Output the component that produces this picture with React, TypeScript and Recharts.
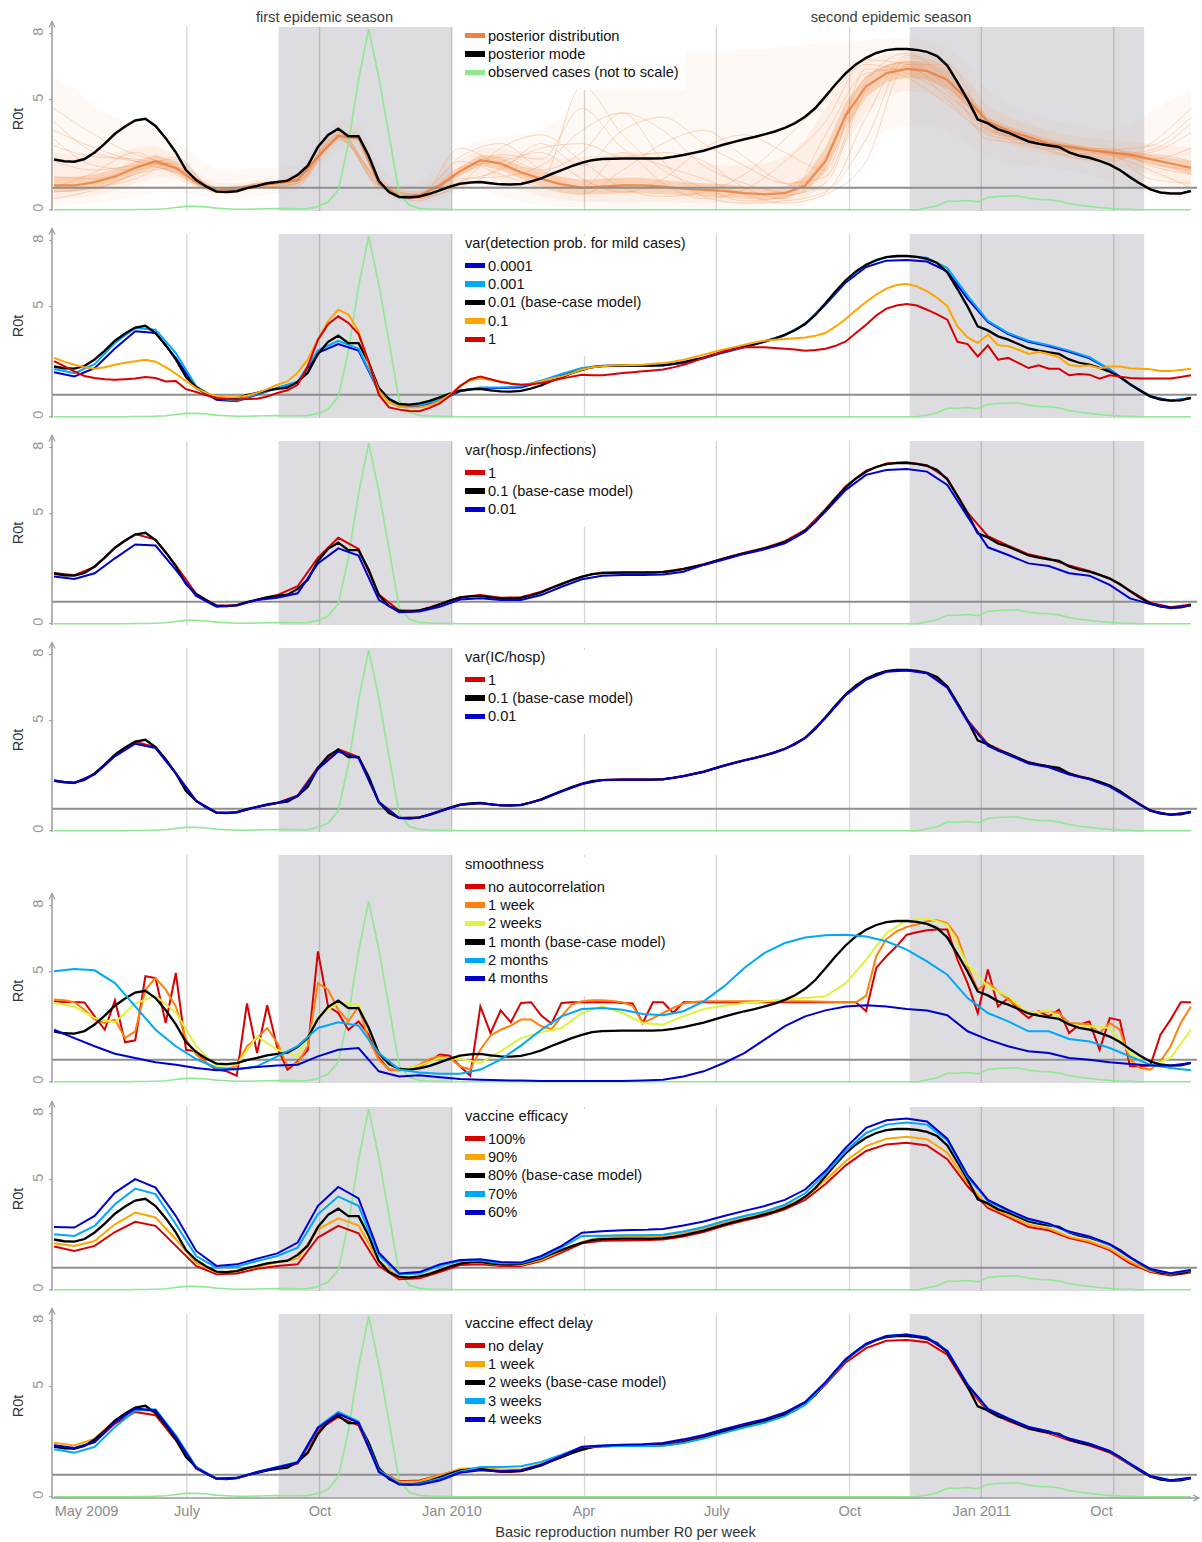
import React from "react";
import { ComposedChart, Line, Area, XAxis, YAxis, ReferenceArea, ReferenceLine } from "recharts";

const FONT = '"Liberation Sans", Arial, sans-serif';
const AXIS = "#9A9A9A";

// ---------------------------------------------------------------------------
// Axis data: weeks since the first week of May 2009
// ---------------------------------------------------------------------------

const WEEKS = Array.from({ length: 113 }, (_, i) => i);
const X_TICKS = [3.2, 13.1, 26.2, 39.2, 52.2, 65.3, 78.4, 91.4, 103.2];
const X_LABELS = ["May 2009", "July", "Oct", "Jan 2010", "Apr", "July", "Oct", "Jan 2011", "Oct"];
const GRID_WEEKS = [13.08, 26.16, 39.2, 52.26, 65.25, 78.37, 91.35, 104.4];
const SEASONS = [[22.13, 39.2], [84.3, 107.4]];
const Y_TICKS = [0, 5, 8];

// ---------------------------------------------------------------------------
// Weekly series (113 values, w0..w112)
// ---------------------------------------------------------------------------

// base-case model / posterior mode
const BASE = [
  2.28, 2.2, 2.18, 2.3, 2.6, 3.0, 3.45, 3.78, 4.05, 4.13,
  3.8, 3.25, 2.6, 1.8, 1.35, 1.05, 0.82, 0.8, 0.84, 0.98,
  1.08, 1.2, 1.26, 1.32, 1.58, 2.0, 2.85, 3.4, 3.68, 3.34,
  3.34, 2.45, 1.3, 0.8, 0.58, 0.55, 0.6, 0.72, 0.88, 1.05,
  1.18, 1.24, 1.26, 1.2, 1.15, 1.14, 1.17, 1.28, 1.42, 1.62,
  1.8, 1.98, 2.13, 2.25, 2.3, 2.31, 2.32, 2.32, 2.32, 2.32,
  2.34, 2.4, 2.48, 2.58, 2.68, 2.82, 2.96, 3.08, 3.2, 3.3,
  3.42, 3.55, 3.72, 3.93, 4.22, 4.62, 5.15, 5.7, 6.2, 6.6,
  6.9, 7.12, 7.25, 7.3, 7.3, 7.26, 7.17, 6.98, 6.55, 5.8,
  5.0, 4.1, 3.92, 3.65, 3.5, 3.3, 3.1, 3.0, 2.92, 2.85,
  2.6, 2.45, 2.36, 2.22, 2.05, 1.8, 1.48, 1.18, 0.92, 0.78,
  0.73, 0.74, 0.85,
];

// observed cases, rescaled to the panel
const OBSERVED = [
  0, 0, 0, 0, 0, 0, 0, 0, 0.01, 0.01,
  0.02, 0.04, 0.1, 0.15, 0.15, 0.12, 0.07, 0.04, 0.02, 0.02,
  0.03, 0.04, 0.05, 0.05, 0.04, 0.05, 0.15, 0.35, 0.9, 3.0,
  5.9, 8.2, 6.0, 3.4, 0.75, 0.2, 0.06, 0.03, 0.02, 0.01,
  0, 0, 0, 0, 0, 0, 0, 0, 0, 0,
  0, 0, 0, 0, 0, 0, 0, 0, 0, 0,
  0, 0, 0, 0, 0, 0, 0, 0, 0, 0,
  0, 0, 0, 0, 0, 0, 0, 0, 0, 0,
  0, 0, 0, 0, 0, 0, 0.08, 0.18, 0.38, 0.38,
  0.42, 0.36, 0.55, 0.6, 0.62, 0.62, 0.52, 0.47, 0.45, 0.4,
  0.28, 0.2, 0.15, 0.1, 0.06, 0.03, 0.02, 0, 0, 0,
  0, 0, 0,
];

const P2_ORANGE = [
  2.67, 2.5, 2.36, 2.25, 2.18, 2.25, 2.36, 2.45, 2.52, 2.59,
  2.5, 2.25, 1.95, 1.62, 1.3, 1.08, 0.92, 0.88, 0.88, 0.95,
  1.08, 1.25, 1.45, 1.6, 2.0, 2.6, 3.5, 4.33, 4.86, 4.64,
  3.88, 2.4, 1.18, 0.65, 0.45, 0.42, 0.43, 0.52, 0.7, 1.0,
  1.42, 1.65, 1.73, 1.68, 1.6, 1.52, 1.45, 1.5, 1.6, 1.72,
  1.83, 1.98, 2.14, 2.25, 2.29, 2.32, 2.34, 2.35, 2.36, 2.4,
  2.44, 2.5, 2.59, 2.7, 2.82, 2.94, 3.05, 3.16, 3.27, 3.37,
  3.45, 3.5, 3.53, 3.56, 3.6, 3.68, 3.8, 4.1, 4.44, 4.85,
  5.21, 5.55, 5.82, 5.98, 6.03, 5.92, 5.7, 5.4, 5.02, 4.1,
  3.6, 3.35, 3.73, 3.25, 3.2, 3.05, 2.85, 2.95, 2.85, 2.7,
  2.35, 2.3, 2.33, 2.2, 2.28, 2.28, 2.2, 2.18, 2.15, 2.08,
  2.07, 2.12, 2.18,
];

const P2_RED = [
  2.52, 2.3, 2.06, 1.85, 1.76, 1.7, 1.68, 1.7, 1.73, 1.8,
  1.76, 1.6, 1.62, 1.25, 1.12, 0.97, 0.85, 0.8, 0.77, 0.8,
  0.82, 0.92, 1.08, 1.2, 1.45, 2.3, 3.5, 4.2, 4.56, 4.26,
  3.75, 2.5, 1.0, 0.42, 0.32, 0.26, 0.25, 0.4, 0.6, 0.95,
  1.38, 1.7, 1.82, 1.7, 1.58, 1.5, 1.45, 1.47, 1.53, 1.62,
  1.73, 1.82, 1.9, 1.88, 1.88, 1.93, 1.98, 2.02, 2.06, 2.1,
  2.14, 2.24, 2.36, 2.5, 2.67, 2.82, 2.97, 3.07, 3.15, 3.15,
  3.15, 3.12, 3.09, 3.05, 3.0, 3.03, 3.09, 3.22, 3.42, 3.8,
  4.18, 4.6, 4.91, 5.05, 5.12, 5.05, 4.86, 4.65, 4.41, 3.4,
  3.3, 2.74, 3.24, 2.59, 2.67, 2.44, 2.21, 2.33, 2.18, 2.18,
  1.88, 1.94, 1.91, 1.73, 1.88, 1.82, 1.76, 1.74, 1.73, 1.73,
  1.74, 1.8, 1.88,
];

const P5_RED = [
  3.65, 3.62, 3.62, 3.6, 2.97, 2.36, 3.7, 1.79, 1.88, 4.79,
  4.71, 2.67, 4.94, 1.45, 1.38, 0.85, 0.55, 0.47, 0.27, 3.55,
  1.3, 3.47, 1.53, 0.55, 0.92, 1.45, 5.92, 3.42, 3.12, 2.36,
  2.74, 2.14, 1.08, 0.55, 0.52, 0.55, 0.7, 0.92, 1.23, 1.18,
  0.7, 0.27, 3.42, 2.21, 3.24, 2.7, 3.58, 3.61, 3.0, 2.64,
  3.58, 3.61, 3.61, 3.61, 3.61, 3.61, 3.58, 3.55, 2.67, 3.61,
  3.61, 3.12, 3.61, 3.61, 3.61, 3.61, 3.61, 3.61, 3.61, 3.61,
  3.61, 3.61, 3.61, 3.61, 3.61, 3.61, 3.61, 3.61, 3.61, 3.61,
  3.2, 5.17, 5.7, 6.15, 6.68, 6.79, 6.88, 6.91, 6.91, 5.55,
  4.48, 3.12, 5.1, 3.42, 3.8, 3.27, 2.89, 3.2, 2.97, 3.27,
  2.21, 2.59, 2.74, 1.45, 2.89, 2.79, 0.7, 0.7, 0.73, 2.14,
  2.82, 3.61, 3.61,
];

const P5_ORANGE = [
  3.73, 3.7, 3.61, 3.27, 2.82, 2.67, 2.82, 1.98, 2.29, 4.18,
  4.71, 4.18, 3.42, 1.91, 1.23, 0.85, 0.62, 0.59, 0.7, 1.61,
  1.98, 2.44, 1.76, 0.7, 0.85, 1.61, 4.48, 4.18, 3.27, 2.74,
  3.42, 1.91, 1.0, 0.55, 0.52, 0.58, 0.77, 1.03, 1.15, 1.08,
  0.7, 0.55, 1.45, 2.09, 2.36, 2.55, 2.82, 2.82, 2.52, 2.39,
  2.97, 3.5, 3.65, 3.7, 3.7, 3.67, 3.61, 3.45, 2.67, 2.89,
  3.12, 3.35, 3.55, 3.62, 3.65, 3.65, 3.65, 3.65, 3.65, 3.65,
  3.65, 3.65, 3.65, 3.65, 3.65, 3.64, 3.63, 3.62, 3.61, 3.61,
  3.9, 5.7, 6.48, 6.83, 7.03, 7.14, 7.29, 7.33, 7.21, 6.58,
  5.24, 4.18, 4.52, 4.11, 3.73, 3.42, 3.12, 3.17, 3.2, 3.12,
  2.67, 2.64, 2.59, 2.21, 2.67, 2.36, 1.0, 0.62, 0.55, 0.92,
  1.61, 2.67, 3.42,
];

// ---------------------------------------------------------------------------
// Two-weekly series (57 values, w0, w2, ..., w112)
// ---------------------------------------------------------------------------

const P2_BLUE = [
  2.02, 1.83, 2.2, 3.1, 3.88, 3.8, 2.67, 1.3, 0.77, 0.7,
  1.0, 1.3, 1.55, 2.9, 3.3, 3.0, 1.15, 0.47, 0.47, 0.73,
  1.15, 1.3, 1.3, 1.33, 1.6, 1.9, 2.18,
  2.3, 2.33, 2.33, 2.33, 2.45, 2.65, 2.92, 3.15, 3.4, 3.7,
  4.2, 5.1, 6.1, 6.8, 7.09, 7.12, 7.05, 6.6, 5.35, 4.3,
  3.75, 3.4, 3.2, 2.95, 2.65, 2.15, 1.48, 0.93, 0.73, 0.84,
];
const P2_LBLUE = [
  2.17, 1.98, 2.39, 3.35, 4.03, 3.95, 2.89, 1.38, 0.82, 0.73,
  1.03, 1.3, 1.6, 3.0, 3.45, 3.09, 1.15, 0.52, 0.52, 0.77,
  1.18, 1.33, 1.33, 1.38, 1.64, 1.94, 2.21,
  2.31, 2.33, 2.33, 2.34, 2.46, 2.67, 2.94, 3.18, 3.42, 3.72,
  4.22, 5.15, 6.2, 6.9, 7.25, 7.3, 7.22, 6.75, 5.5, 4.35,
  3.8, 3.45, 3.25, 3.0, 2.7, 2.15, 1.45, 0.9, 0.72, 0.85,
];

const P3_RED = [
  2.3, 2.2, 2.58, 3.45, 4.07, 3.82, 2.65, 1.36, 0.82, 0.84,
  1.1, 1.3, 1.7, 3.0, 3.9, 3.4, 1.32, 0.6, 0.6, 0.88,
  1.2, 1.3, 1.18, 1.2, 1.45, 1.82, 2.15,
  2.32, 2.34, 2.34, 2.36, 2.5, 2.7, 2.98, 3.22, 3.44, 3.75,
  4.26, 5.2, 6.25, 6.95, 7.28, 7.33, 7.2, 6.6, 5.05, 3.98,
  3.55, 3.15, 2.95, 2.65, 2.4, 2.06, 1.5, 0.95, 0.75, 0.87,
];
const P3_BLUE = [
  2.14, 2.03, 2.29, 2.97, 3.6, 3.55, 2.44, 1.26, 0.77, 0.82,
  1.08, 1.18, 1.38, 2.74, 3.42, 3.09, 1.08, 0.52, 0.55, 0.77,
  1.1, 1.15, 1.08, 1.08, 1.3, 1.68, 2.02,
  2.18, 2.21, 2.21, 2.24, 2.36, 2.67, 2.92, 3.17, 3.38, 3.65,
  4.18, 5.09, 6.08, 6.76, 6.98, 7.03, 6.91, 6.3, 4.86, 3.47,
  3.12, 2.74, 2.62, 2.29, 2.18, 1.76, 1.15, 0.89, 0.7, 0.82,
];

const P4_RED = [
  2.27, 2.16, 2.58, 3.44, 4.04, 3.8, 2.6, 1.35, 0.82, 0.84,
  1.08, 1.26, 1.6, 2.88, 3.7, 3.35, 1.3, 0.58, 0.6, 0.88,
  1.18, 1.26, 1.15, 1.17, 1.42, 1.8, 2.13,
  2.3, 2.32, 2.32, 2.34, 2.48, 2.68, 2.96, 3.2, 3.42, 3.72,
  4.22, 5.15, 6.2, 6.9, 7.25, 7.3, 7.17, 6.57, 5.02, 3.93,
  3.5, 3.1, 2.92, 2.6, 2.36, 2.05, 1.48, 0.92, 0.73, 0.85,
];
const P4_BLUE = [
  2.26, 2.17, 2.56, 3.38, 3.95, 3.75, 2.6, 1.35, 0.82, 0.83,
  1.08, 1.26, 1.56, 2.8, 3.6, 3.3, 1.3, 0.58, 0.6, 0.88,
  1.17, 1.25, 1.15, 1.16, 1.4, 1.78, 2.12,
  2.3, 2.31, 2.31, 2.33, 2.47, 2.67, 2.95, 3.19, 3.41, 3.71,
  4.2, 5.12, 6.16, 6.86, 7.22, 7.28, 7.15, 6.5, 4.95, 3.85,
  3.45, 3.05, 2.88, 2.55, 2.33, 2.0, 1.45, 0.9, 0.72, 0.84,
];

const P5_YELLOW = [
  3.58, 3.42, 2.89, 2.7, 3.55, 3.9, 3.15, 1.61, 0.7, 0.77,
  2.06, 1.45, 1.15, 2.97, 3.58, 3.5, 1.23, 0.55, 0.73, 1.08,
  1.03, 0.85, 1.38, 1.98, 2.24, 2.44, 3.12,
  3.42, 3.12, 2.67, 2.59, 2.97, 3.3, 3.45, 3.58, 3.65, 3.73,
  3.8, 3.88, 4.48, 5.55, 6.76, 7.33, 7.44, 7.14, 5.32, 4.33,
  3.88, 3.12, 3.23, 2.59, 2.52, 2.44, 1.3, 0.7, 1.08, 2.36,
];
const P5_LBLUE = [
  5.02, 5.12, 5.06, 4.48, 3.42, 2.36, 1.61, 1.03, 0.62, 0.55,
  0.7, 1.15, 1.61, 2.44, 2.7, 2.55, 1.3, 0.55, 0.42, 0.36,
  0.36, 0.55, 1.0, 1.64, 2.36, 2.97, 3.3,
  3.35, 3.27, 3.08, 3.02, 3.2, 3.65, 4.33, 5.17, 5.85, 6.3,
  6.55, 6.65, 6.68, 6.6, 6.38, 6.0, 5.47, 4.86, 3.8, 3.12,
  2.74, 2.29, 2.29, 1.94, 1.83, 1.53, 1.15, 0.77, 0.62, 0.52,
];
const P5_BLUE = [
  2.36, 1.98, 1.61, 1.27, 1.08, 0.88, 0.77, 0.62, 0.52, 0.58,
  0.67, 0.74, 0.77, 1.15, 1.45, 1.53, 0.47, 0.24, 0.29, 0.2,
  0.12, 0.09, 0.06, 0.05, 0.03, 0.03, 0.03,
  0.03, 0.03, 0.05, 0.09, 0.24, 0.47, 0.85, 1.3, 1.91, 2.52,
  2.97, 3.24, 3.42, 3.47, 3.42, 3.3, 3.23, 3.02, 2.29, 1.91,
  1.61, 1.38, 1.3, 1.08, 1.0, 0.88, 0.8, 0.73, 0.73, 0.85,
];

const P6_RED = [
  1.96, 1.76, 1.99, 2.62, 3.08, 2.9, 1.99, 1.08, 0.7, 0.74,
  0.95, 1.08, 1.15, 2.37, 2.9, 2.56, 1.08, 0.47, 0.52, 0.8,
  1.12, 1.15, 1.08, 1.08, 1.3, 1.68, 2.11,
  2.22, 2.24, 2.25, 2.28, 2.42, 2.62, 2.9, 3.14, 3.36, 3.65,
  4.08, 4.8, 5.65, 6.3, 6.6, 6.68, 6.55, 5.93, 4.7, 3.72,
  3.3, 2.85, 2.7, 2.35, 2.14, 1.8, 1.2, 0.8, 0.65, 0.78,
];
const P6_ORANGE = [
  2.11, 1.99, 2.21, 2.97, 3.5, 3.28, 2.29, 1.23, 0.78, 0.85,
  1.05, 1.23, 1.41, 2.74, 3.24, 2.92, 1.3, 0.55, 0.59, 0.9,
  1.2, 1.23, 1.12, 1.12, 1.35, 1.76, 2.17,
  2.4, 2.42, 2.42, 2.44, 2.58, 2.78, 3.05, 3.28, 3.48, 3.78,
  4.2, 4.98, 5.85, 6.52, 6.86, 6.95, 6.84, 6.22, 4.86, 3.8,
  3.38, 2.95, 2.78, 2.4, 2.2, 1.86, 1.28, 0.85, 0.7, 0.84,
];
const P6_LBLUE = [
  2.52, 2.44, 2.9, 3.88, 4.59, 4.34, 2.97, 1.53, 1.0, 1.05,
  1.3, 1.53, 1.91, 3.43, 4.23, 3.81, 1.56, 0.7, 0.74, 1.08,
  1.3, 1.33, 1.2, 1.2, 1.46, 1.91, 2.44,
  2.45, 2.47, 2.47, 2.5, 2.64, 2.85, 3.12, 3.35, 3.55, 3.86,
  4.38, 5.28, 6.3, 7.12, 7.5, 7.6, 7.5, 6.78, 5.12, 4.02,
  3.58, 3.18, 2.98, 2.62, 2.4, 2.05, 1.45, 0.92, 0.74, 0.88,
];
const P6_BLUE = [
  2.85, 2.82, 3.35, 4.41, 5.02, 4.64, 3.35, 1.76, 1.08, 1.15,
  1.41, 1.65, 2.14, 3.81, 4.67, 4.15, 1.68, 0.74, 0.8, 1.15,
  1.35, 1.38, 1.26, 1.23, 1.53, 1.99, 2.59,
  2.65, 2.7, 2.72, 2.76, 2.92, 3.1, 3.35, 3.58, 3.8, 4.08,
  4.55, 5.4, 6.45, 7.35, 7.7, 7.78, 7.64, 6.86, 5.2, 4.08,
  3.62, 3.22, 3.0, 2.64, 2.42, 2.07, 1.47, 0.94, 0.75, 0.9,
];

const P7_RED = [
  2.33, 2.18, 2.48, 3.32, 3.85, 3.7, 2.56, 1.27, 0.82, 0.85,
  1.09, 1.3, 1.5, 3.02, 3.62, 3.24, 1.2, 0.7, 0.74, 0.97,
  1.24, 1.24, 1.12, 1.15, 1.42, 1.8, 2.18,
  2.3, 2.34, 2.36, 2.4, 2.56, 2.76, 3.02, 3.26, 3.48, 3.78,
  4.25, 5.1, 6.1, 6.75, 7.08, 7.12, 7.02, 6.45, 4.95, 3.88,
  3.45, 3.08, 2.88, 2.56, 2.32, 2.0, 1.45, 0.9, 0.71, 0.82,
];
const P7_ORANGE = [
  2.45, 2.33, 2.64, 3.47, 4.0, 3.85, 2.64, 1.27, 0.82, 0.86,
  1.12, 1.33, 1.55, 3.09, 3.77, 3.39, 1.2, 0.67, 0.7, 0.97,
  1.27, 1.3, 1.24, 1.24, 1.5, 1.88, 2.26,
  2.29, 2.31, 2.31, 2.32, 2.46, 2.66, 2.92, 3.16, 3.38, 3.68,
  4.2, 5.15, 6.2, 6.9, 7.27, 7.33, 7.2, 6.58, 5.04, 3.95,
  3.52, 3.12, 2.93, 2.62, 2.38, 2.06, 1.48, 0.93, 0.73, 0.85,
];
const P7_LBLUE = [
  2.15, 2.0, 2.26, 3.17, 3.92, 3.97, 2.79, 1.35, 0.82, 0.85,
  1.12, 1.35, 1.58, 3.17, 3.85, 3.42, 1.2, 0.59, 0.59, 0.82,
  1.15, 1.35, 1.35, 1.38, 1.58, 1.91, 2.26,
  2.28, 2.3, 2.3, 2.31, 2.44, 2.64, 2.9, 3.14, 3.36, 3.66,
  4.18, 5.15, 6.22, 6.93, 7.3, 7.37, 7.24, 6.63, 5.1, 3.99,
  3.56, 3.17, 2.97, 2.65, 2.41, 2.08, 1.5, 0.94, 0.74, 0.86,
];
const P7_BLUE = [
  2.33, 2.21, 2.48, 3.39, 4.0, 3.92, 2.71, 1.3, 0.82, 0.85,
  1.12, 1.33, 1.55, 3.12, 3.77, 3.36, 1.12, 0.56, 0.55, 0.74,
  1.09, 1.2, 1.15, 1.2, 1.45, 1.85, 2.26,
  2.32, 2.36, 2.38, 2.44, 2.6, 2.8, 3.06, 3.3, 3.52, 3.82,
  4.3, 5.2, 6.25, 6.95, 7.3, 7.36, 7.22, 6.62, 5.08, 3.98,
  3.55, 3.16, 2.96, 2.64, 2.4, 2.07, 1.5, 0.94, 0.74, 0.86,
];

// posterior distribution bands (two-weekly)
const MEDIAN = [
  1.1, 1.1, 1.25, 1.5, 1.9, 2.2, 1.9, 1.25, 0.9, 0.95,
  1.1, 1.2, 1.35, 2.4, 3.35, 3.25, 1.2, 0.6, 0.65, 1.1,
  1.75, 2.25, 2.1, 1.7, 1.4, 1.15, 1.0,
  1.05, 1.1, 1.1, 1.05, 0.95, 0.9, 0.85, 0.75, 0.7, 0.75,
  1.1, 2.2, 4.3, 5.6, 6.2, 6.4, 6.3, 5.9, 5.0, 4.0,
  3.6, 3.3, 3.0, 2.85, 2.7, 2.6, 2.5, 2.3, 2.1, 1.9,
];
const OUTER_LO = [
  0.2, 0.25, 0.3, 0.45, 0.6, 0.8, 0.8, 0.7, 0.5, 0.5,
  0.6, 0.75, 0.9, 1.8, 2.8, 2.8, 0.8, 0.35, 0.35, 0.5,
  0.8, 0.9, 0.6, 0.35, 0.2, 0.15, 0.1,
  0.05, 0.05, 0.05, 0.05, 0.05, 0.05, 0.05, 0.05, 0.05, 0.1,
  0.2, 0.6, 1.8, 3.0, 3.6, 3.8, 3.9, 3.6, 3.0, 2.4,
  2.1, 2.0, 1.9, 1.8, 1.6, 1.3, 1.0, 0.7, 0.5, 0.4,
];
const OUTER_HI = [
  6.0, 5.5, 4.7, 4.2, 3.9, 3.7, 3.2, 2.4, 1.8, 1.8,
  1.9, 1.9, 2.0, 3.0, 4.1, 4.0, 2.0, 1.1, 1.2, 2.0,
  2.8, 3.2, 3.3, 3.4, 3.6, 4.2, 5.6,
  6.4, 6.8, 7.0, 7.1, 7.2, 7.2, 7.2, 7.3, 7.3, 7.4,
  7.5, 7.6, 7.6, 7.7, 7.8, 7.8, 7.7, 7.4, 6.6, 5.4,
  4.8, 4.4, 4.1, 3.9, 3.7, 3.6, 3.8, 4.4, 5.0, 5.4,
];
const MID_LO = [
  0.5, 0.55, 0.65, 0.85, 1.2, 1.5, 1.4, 1.0, 0.7, 0.75,
  0.9, 1.0, 1.1, 2.1, 3.1, 3.0, 1.0, 0.45, 0.5, 0.8,
  1.2, 1.6, 1.3, 0.9, 0.6, 0.45, 0.35,
  0.35, 0.35, 0.35, 0.35, 0.3, 0.3, 0.3, 0.25, 0.25, 0.3,
  0.5, 1.2, 3.0, 4.4, 5.2, 5.4, 5.3, 4.9, 4.2, 3.3,
  3.0, 2.7, 2.5, 2.35, 2.2, 2.05, 1.85, 1.6, 1.3, 1.1,
];
const MID_HI = [
  2.6, 2.5, 2.5, 2.6, 2.8, 2.9, 2.5, 1.7, 1.2, 1.2,
  1.35, 1.45, 1.6, 2.7, 3.7, 3.55, 1.5, 0.8, 0.85, 1.5,
  2.3, 2.8, 2.8, 2.6, 2.4, 2.3, 2.4,
  2.5, 2.6, 2.6, 2.5, 2.3, 2.1, 2.0, 2.0, 2.1, 2.4,
  3.2, 4.6, 6.0, 6.8, 7.1, 7.2, 7.1, 6.8, 5.9, 4.7,
  4.2, 3.9, 3.6, 3.4, 3.25, 3.15, 3.1, 3.0, 2.9, 2.8,
];
const IN_LO = [
  0.8, 0.8, 0.95, 1.2, 1.6, 1.9, 1.65, 1.1, 0.8, 0.85,
  1.0, 1.1, 1.25, 2.3, 3.25, 3.15, 1.1, 0.55, 0.6, 1.0,
  1.55, 2.0, 1.8, 1.4, 1.05, 0.8, 0.7,
  0.7, 0.75, 0.75, 0.7, 0.65, 0.6, 0.55, 0.5, 0.45, 0.5,
  0.8, 1.7, 3.7, 5.1, 5.8, 6.0, 5.9, 5.5, 4.7, 3.8,
  3.4, 3.1, 2.85, 2.7, 2.55, 2.45, 2.35, 2.1, 1.85, 1.6,
];
const IN_HI = [
  1.5, 1.5, 1.6, 1.85, 2.2, 2.5, 2.2, 1.45, 1.0, 1.05,
  1.2, 1.3, 1.45, 2.5, 3.45, 3.35, 1.3, 0.65, 0.72, 1.2,
  1.95, 2.5, 2.4, 2.0, 1.75, 1.5, 1.35,
  1.4, 1.45, 1.45, 1.35, 1.25, 1.2, 1.15, 1.05, 1.0, 1.05,
  1.5, 2.8, 4.9, 6.1, 6.6, 6.8, 6.7, 6.3, 5.3, 4.2,
  3.8, 3.5, 3.2, 3.0, 2.85, 2.75, 2.65, 2.5, 2.35, 2.2,
];

// a few posterior draws (four-weekly, w0, w4, ..., w112)
const DRAW_1 = [4.6, 3.4, 2.5, 2.0, 1.0, 1.1, 1.3, 3.6, 1.0, 0.7, 1.6, 2.4, 1.8, 2.6, 4.4, 3.6, 2.0, 1.2, 0.8, 2.4, 6.0, 6.7, 5.6, 3.9, 3.1, 2.8, 2.6, 2.3, 2.8];
const DRAW_2 = [0.5, 0.9, 1.6, 1.9, 0.9, 1.1, 1.4, 3.2, 1.4, 0.6, 2.2, 1.6, 1.0, 0.7, 1.8, 3.0, 3.6, 2.4, 1.2, 0.9, 4.2, 7.0, 6.4, 3.6, 3.3, 2.6, 2.4, 2.6, 3.5];
const DRAW_3 = [2.9, 2.4, 2.3, 1.8, 0.8, 1.0, 1.2, 3.4, 1.2, 0.5, 1.2, 2.8, 3.4, 2.2, 1.0, 0.6, 0.8, 1.6, 3.2, 5.0, 6.6, 6.2, 5.2, 3.7, 2.9, 2.7, 2.8, 2.0, 1.6];
const DRAW_4 = [1.5, 1.4, 1.9, 2.3, 0.8, 1.2, 1.3, 3.5, 1.3, 0.6, 2.8, 2.0, 1.4, 5.6, 3.4, 1.8, 1.0, 0.4, 0.6, 1.2, 5.4, 6.5, 5.8, 3.2, 3.0, 2.9, 2.6, 1.4, 1.2];
const DRAW_5 = [3.6, 2.8, 2.2, 1.7, 1.0, 1.0, 1.1, 3.3, 1.1, 0.7, 1.9, 2.2, 2.6, 1.4, 0.8, 1.4, 2.8, 3.4, 2.6, 1.8, 6.4, 6.0, 4.8, 3.5, 3.2, 2.4, 2.2, 3.0, 4.6];
const DRAW_6 = [0.8, 1.0, 1.4, 2.2, 0.9, 1.1, 1.3, 3.4, 1.2, 0.4, 1.4, 1.5, 2.0, 3.6, 4.4, 2.2, 0.6, 0.3, 0.4, 0.8, 3.2, 6.9, 6.3, 3.8, 3.1, 2.9, 2.5, 1.8, 1.0];
const DRAW_7 = [2.2, 1.8, 2.0, 2.1, 0.9, 1.0, 1.2, 3.3, 1.1, 0.6, 1.0, 1.9, 2.8, 3.0, 2.4, 2.6, 2.2, 1.0, 0.5, 3.4, 6.2, 6.4, 5.4, 3.6, 3.2, 2.6, 2.5, 2.7, 3.9];
const DRAW_8 = [3.2, 2.0, 1.8, 2.4, 0.8, 1.2, 1.4, 3.6, 1.2, 0.8, 2.4, 3.0, 1.8, 1.0, 2.6, 1.2, 0.5, 0.9, 2.2, 4.0, 6.8, 6.6, 5.0, 3.4, 3.1, 2.7, 2.3, 2.5, 2.2];
const DRAW_9 = [1.0, 1.7, 2.6, 1.6, 0.9, 1.0, 1.2, 3.2, 1.3, 0.5, 1.7, 2.5, 2.3, 4.6, 2.8, 2.0, 1.4, 0.7, 0.3, 0.7, 2.2, 6.6, 6.6, 3.9, 3.0, 2.5, 2.7, 2.9, 4.2];
const DRAW_10 = [4.0, 2.6, 2.2, 1.9, 1.0, 1.1, 1.3, 3.4, 1.1, 0.7, 1.3, 1.8, 3.0, 2.0, 3.6, 4.2, 3.0, 2.0, 1.2, 1.5, 5.8, 7.1, 5.9, 3.7, 3.2, 2.8, 2.6, 2.1, 1.8];

// ---------------------------------------------------------------------------
// Table for recharts: one row per week
// ---------------------------------------------------------------------------

const ROWS: any[] = WEEKS.map((w) => ({ w }));
function put(key: string, values: any[], step: number) {
  values.forEach((v, i) => {
    const row = ROWS[i * step];
    if (row) row[key] = v;
  });
}
put("base", BASE, 1);
put("obs", OBSERVED, 1);
put("p2orange", P2_ORANGE, 1);
put("p2red", P2_RED, 1);
put("p5red", P5_RED, 1);
put("p5orange", P5_ORANGE, 1);
put("p2blue", P2_BLUE, 2);
put("p2lblue", P2_LBLUE, 2);
put("p3red", P3_RED, 2);
put("p3blue", P3_BLUE, 2);
put("p4red", P4_RED, 2);
put("p4blue", P4_BLUE, 2);
put("p5yellow", P5_YELLOW, 2);
put("p5lblue", P5_LBLUE, 2);
put("p5blue", P5_BLUE, 2);
put("p6red", P6_RED, 2);
put("p6orange", P6_ORANGE, 2);
put("p6lblue", P6_LBLUE, 2);
put("p6blue", P6_BLUE, 2);
put("p7red", P7_RED, 2);
put("p7orange", P7_ORANGE, 2);
put("p7lblue", P7_LBLUE, 2);
put("p7blue", P7_BLUE, 2);
put("median", MEDIAN, 2);
put("outer", OUTER_LO.map((lo, i) => [lo, OUTER_HI[i]]), 2);
put("mid", MID_LO.map((lo, i) => [lo, MID_HI[i]]), 2);
put("inner", IN_LO.map((lo, i) => [lo, IN_HI[i]]), 2);
const DRAWS = [DRAW_1, DRAW_2, DRAW_3, DRAW_4, DRAW_5, DRAW_6, DRAW_7, DRAW_8, DRAW_9, DRAW_10];
DRAWS.forEach((d, i) => put(`draw${i}`, d, 4));

// ---------------------------------------------------------------------------
// Panels
// ---------------------------------------------------------------------------

const RED = "#D80000";
const ORANGE = "#FFA500";
const DORANGE = "#FF7F0F";
const YELLOW = "#DCF43A";
const LBLUE = "#00A8F8";
const BLUE = "#0000CD";
const BLACK = "#000000";
const GREEN = "#90E890";
const POST = "#F0843E";

const XMIN = -0.2;
const XMAX = 112.6;
const YMIN = -0.06;

const BASE_LINE = { key: "base", color: BLACK, width: 2.3 };

const PANELS = [
  {
    top: 27, plotH: 184, ymax: 8.3, posterior: true, title: null,
    items: [
      { label: "posterior distribution", color: POST },
      { label: "posterior mode", color: BLACK },
      { label: "observed cases (not to scale)", color: GREEN },
    ],
    lines: [{ key: "base", color: BLACK, width: 2.5 }],
  },
  {
    top: 234, plotH: 184, ymax: 8.3, title: "var(detection prob. for mild cases)",
    items: [
      { label: "0.0001", color: BLUE },
      { label: "0.001", color: LBLUE },
      { label: "0.01 (base-case model)", color: BLACK },
      { label: "0.1", color: ORANGE },
      { label: "1", color: RED },
    ],
    lines: [
      { key: "p2blue", color: BLUE, width: 2 },
      { key: "p2lblue", color: LBLUE, width: 2 },
      BASE_LINE,
      { key: "p2orange", color: ORANGE, width: 2 },
      { key: "p2red", color: RED, width: 2 },
    ],
  },
  {
    top: 441, plotH: 184, ymax: 8.3, title: "var(hosp./infections)",
    items: [
      { label: "1", color: RED },
      { label: "0.1 (base-case model)", color: BLACK },
      { label: "0.01", color: BLUE },
    ],
    lines: [
      { key: "p3red", color: RED, width: 2 },
      BASE_LINE,
      { key: "p3blue", color: BLUE, width: 2 },
    ],
  },
  {
    top: 648, plotH: 184, ymax: 8.3, title: "var(IC/hosp)",
    items: [
      { label: "1", color: RED },
      { label: "0.1 (base-case model)", color: BLACK },
      { label: "0.01", color: BLUE },
    ],
    lines: [
      { key: "p4red", color: RED, width: 2 },
      BASE_LINE,
      { key: "p4blue", color: BLUE, width: 2 },
    ],
  },
  {
    top: 855, plotH: 228, ymax: 10.3, title: "smoothness",
    items: [
      { label: "no autocorrelation", color: RED },
      { label: "1 week", color: DORANGE },
      { label: "2 weeks", color: YELLOW },
      { label: "1 month (base-case model)", color: BLACK },
      { label: "2 months", color: LBLUE },
      { label: "4 months", color: BLUE },
    ],
    lines: [
      { key: "p5red", color: RED, width: 2 },
      { key: "p5orange", color: DORANGE, width: 2 },
      { key: "p5yellow", color: YELLOW, width: 2 },
      BASE_LINE,
      { key: "p5lblue", color: LBLUE, width: 2 },
      { key: "p5blue", color: BLUE, width: 2 },
    ],
  },
  {
    top: 1107, plotH: 184, ymax: 8.3, title: "vaccine efficacy",
    items: [
      { label: "100%", color: RED },
      { label: "90%", color: ORANGE },
      { label: "80% (base-case model)", color: BLACK },
      { label: "70%", color: LBLUE },
      { label: "60%", color: BLUE },
    ],
    lines: [
      { key: "p6red", color: RED, width: 2 },
      { key: "p6orange", color: ORANGE, width: 2 },
      BASE_LINE,
      { key: "p6lblue", color: LBLUE, width: 2 },
      { key: "p6blue", color: BLUE, width: 2 },
    ],
  },
  {
    top: 1314, plotH: 184, ymax: 8.3, title: "vaccine effect delay", bottom: true,
    items: [
      { label: "no delay", color: RED },
      { label: "1 week", color: ORANGE },
      { label: "2 weeks (base-case model)", color: BLACK },
      { label: "3 weeks", color: LBLUE },
      { label: "4 weeks", color: BLUE },
    ],
    lines: [
      { key: "p7red", color: RED, width: 2 },
      { key: "p7orange", color: ORANGE, width: 2 },
      BASE_LINE,
      { key: "p7lblue", color: LBLUE, width: 2 },
      { key: "p7blue", color: BLUE, width: 2.2 },
    ],
  },
];

// ---------------------------------------------------------------------------
// Small render helpers
// ---------------------------------------------------------------------------

const YTick = (props: any) => {
  const { y, payload } = props;
  const cy = y - 2;
  return (
    <text x={38} y={cy} transform={`rotate(-90 38 ${cy})`} textAnchor="middle" dominantBaseline="central"
      fontSize={14.5} fontFamily={FONT} fill={AXIS}>
      {payload.value}
    </text>
  );
};

const XTick = (props: any) => {
  const { x, y, payload } = props;
  const i = X_TICKS.indexOf(payload.value);
  return (
    <text x={x} y={y + 13} textAnchor="middle" dominantBaseline="central" fontSize={14.5} fontFamily={FONT} fill="#8C8C8C">
      {X_LABELS[i]}
    </text>
  );
};

// axis line that ends in an open arrow head
const ArrowLine = (props: any) => {
  const { x1, y1, x2, y2 } = props;
  const len = Math.hypot(x2 - x1, y2 - y1) || 1;
  const ux = (x2 - x1) / len;
  const uy = (y2 - y1) / len;
  const bx = x2 - ux * 6;
  const by = y2 - uy * 6;
  const nx = -uy * 3;
  const ny = ux * 3;
  return (
    <g>
      <line x1={x1} y1={y1} x2={x2} y2={y2} stroke={AXIS} strokeWidth={1.5} />
      <path d={`M${bx + nx},${by + ny}L${x2},${y2}L${bx - nx},${by - ny}`} fill="none" stroke={AXIS} strokeWidth={1.2} />
    </g>
  );
};

function Panel({ p }: any) {
  const mt = 10;
  const axisH = p.bottom ? 46 : 0;
  const mb = p.bottom ? 0 : 2;
  const h = p.plotH + mt + mb + axisH;
  const ppu = p.plotH / (p.ymax - YMIN);

  return (
    <div style={{ position: "absolute", left: 0, top: p.top - mt, width: 1202, height: h }}>
      <ComposedChart width={1202} height={h} data={ROWS} margin={{ top: mt, right: 5, bottom: mb, left: 0 }}>
        <XAxis type="number" dataKey="w" domain={[XMIN, XMAX]} allowDataOverflow hide={!p.bottom} height={axisH}
          ticks={X_TICKS} interval={0} tick={XTick} tickLine={false} axisLine={false} tickSize={0} tickMargin={0} />
        <YAxis type="number" domain={[YMIN, p.ymax]} allowDataOverflow ticks={Y_TICKS} interval={0} width={52}
          tick={YTick} axisLine={false} tickLine={{ stroke: AXIS }} tickSize={3} />

        {SEASONS.map(([a, b], i) => (
          <ReferenceArea key={`s${i}`} x1={a} x2={b} fill="#DCDCE1" fillOpacity={1} stroke="none" />
        ))}
        {GRID_WEEKS.map((g) => (
          <ReferenceLine key={`g${g}`} x={g} stroke="#000" strokeOpacity={0.16} strokeWidth={1.3} />
        ))}

        {p.posterior && (
          <Area dataKey="outer" type="linear" stroke="none" fill="#F4A46C" fillOpacity={0.07} connectNulls isAnimationActive={false} />
        )}
        {p.posterior && (
          <Area dataKey="mid" type="linear" stroke="none" fill="#F4A46C" fillOpacity={0.11} connectNulls isAnimationActive={false} />
        )}
        {p.posterior && (
          <Area dataKey="inner" type="linear" stroke="none" fill="#F08A4A" fillOpacity={0.3} connectNulls isAnimationActive={false} />
        )}
        {p.posterior &&
          DRAWS.map((_, i) => (
            <Line key={`d${i}`} dataKey={`draw${i}`} type="monotone" stroke="#F2945A" strokeOpacity={0.45} strokeWidth={0.8}
              dot={false} activeDot={false} connectNulls isAnimationActive={false} />
          ))}
        {p.posterior && (
          <Line dataKey="median" type="linear" stroke="#EA7A36" strokeOpacity={0.8} strokeWidth={2.2}
            dot={false} activeDot={false} connectNulls isAnimationActive={false} />
        )}

        <ReferenceLine y={1} stroke="#8E8E8E" strokeWidth={2} />
        <Line dataKey="obs" type="linear" stroke={GREEN} strokeWidth={1.6} dot={false} activeDot={false} isAnimationActive={false} />

        {p.lines.map((s: any) => (
          <Line key={s.key} dataKey={s.key} type="linear" stroke={s.color} strokeWidth={s.width}
            dot={false} activeDot={false} connectNulls isAnimationActive={false} />
        ))}

        <ReferenceLine segment={[{ x: XMIN, y: YMIN }, { x: XMIN, y: 8.55 }]} ifOverflow="visible" shape={ArrowLine} />
        {p.bottom && (
          <ReferenceLine segment={[{ x: XMIN, y: YMIN }, { x: 112.8, y: YMIN }]} ifOverflow="visible" shape={ArrowLine} />
        )}
      </ComposedChart>

      {/* legend, sized to its text, white background */}
      <div style={{
        position: "absolute", left: 455, top: mt + 1.5, padding: "0 6px 8px 10px",
        background: "#fff", fontFamily: FONT, fontSize: 14.6, color: "#111",
      }}>
        {p.title && (
          <div style={{ height: 23, lineHeight: "18.4px", marginTop: -2, whiteSpace: "nowrap" }}>{p.title}</div>
        )}
        <div style={{ marginTop: p.title ? 0 : -2 }}>
          {p.items.map((it: any) => (
            <div key={it.label} style={{ display: "flex", alignItems: "center", height: 18.4, whiteSpace: "nowrap" }}>
              <div style={{ width: 20, height: 5.5, background: it.color, marginRight: 3 }} />
              <span style={{ lineHeight: "18.4px" }}>{it.label}</span>
            </div>
          ))}
        </div>
      </div>

      {/* y axis title */}
      <div style={{
        position: "absolute", left: 18, top: mt + (p.ymax - 4.1) * ppu,
        transform: "translate(-50%, -50%) rotate(-90deg)", fontFamily: FONT, fontSize: 14.5,
        color: "#333", whiteSpace: "nowrap",
      }}>
        R0t
      </div>
    </div>
  );
}

export default function App() {
  return (
    <div style={{ position: "absolute", left: 0, top: 0, width: 1202, height: 1542, background: "#fff", overflow: "hidden" }}>
      <div style={{ position: "absolute", left: 324.5, top: 17.3, transform: "translate(-50%, -50%)", fontFamily: FONT, fontSize: 14.6, color: "#3C3C3C", whiteSpace: "nowrap" }}>
        first epidemic season
      </div>
      <div style={{ position: "absolute", left: 891, top: 17.3, transform: "translate(-50%, -50%)", fontFamily: FONT, fontSize: 14.6, color: "#3C3C3C", whiteSpace: "nowrap" }}>
        second epidemic season
      </div>
      {PANELS.map((p, i) => (
        <Panel key={i} p={p} />
      ))}
      <div style={{ position: "absolute", left: 625.5, top: 1532, transform: "translate(-50%, -50%)", fontFamily: FONT, fontSize: 14.6, color: "#333", whiteSpace: "nowrap" }}>
        Basic reproduction number R0 per week
      </div>
    </div>
  );
}
